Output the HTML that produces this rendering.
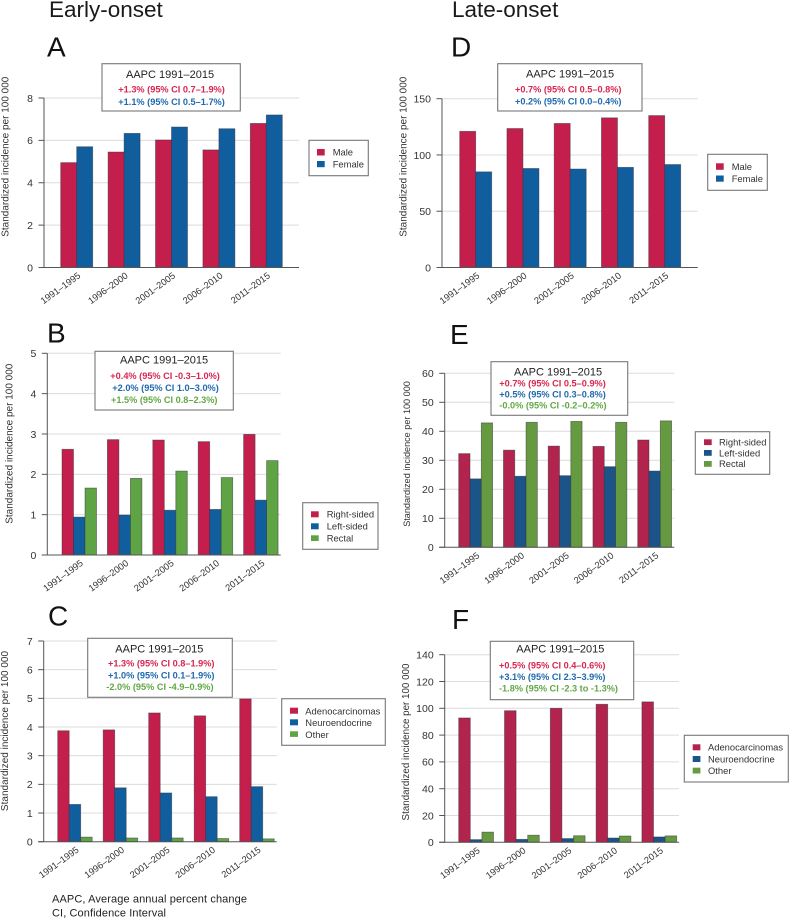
<!DOCTYPE html>
<html lang="en">
<head>
<meta charset="utf-8">
<title>Incidence by onset group</title>
<style>
html,body{margin:0;padding:0;background:#fff;width:789px;height:919px;overflow:hidden}
svg{display:block;font-family:"Liberation Sans",sans-serif;filter:blur(0.3px)}
.hd{font-size:22.5px;fill:#1a1a1a}
.let{font-size:28px;fill:#111}
.ttl{font-size:11px;fill:#222}
.st{font-size:9.2px;font-weight:bold}
.r{fill:#d8264f}.b{fill:#1f69ae}.g{fill:#62a846}
.box{fill:#fff;stroke:#777;stroke-width:1.1}
.lg{font-size:9.4px;fill:#333}
.yt{font-size:10px;fill:#333}
.foot{font-size:11px;fill:#222}
</style>
</head>
<body>
<svg id="figure" width="789" height="919" viewBox="0 0 789 919" xmlns="http://www.w3.org/2000/svg">
<g id="charts"></g>

<text class="hd" x="49" y="17">Early-onset</text>
<text class="hd" x="452" y="17">Late-onset</text>
<text class="let" x="47" y="56.5">A</text>
<text class="let" x="451" y="56.5">D</text>
<text class="let" x="47" y="342.5">B</text>
<text class="let" x="450" y="344">E</text>
<text class="let" x="48" y="625.5">C</text>
<text class="let" x="452" y="629">F</text>

<text class="yt" transform="translate(8.3,156.7) rotate(-90)" text-anchor="middle">Standardized incidence per 100 000</text>
<text class="yt" transform="translate(406.7,156.7) rotate(-90)" text-anchor="middle">Standardized incidence per 100 000</text>
<text class="yt" transform="translate(12.3,443.7) rotate(-90)" text-anchor="middle">Standardized incidence per 100 000</text>
<text class="yt" style="font-size:9.1px" transform="translate(410,454) rotate(-90)" text-anchor="middle">Standardized incidence per 100 000</text>
<text class="yt" transform="translate(8,731) rotate(-90)" text-anchor="middle">Standardized incidence per 100 000</text>
<text class="yt" style="font-size:9.8px" transform="translate(409,742) rotate(-90)" text-anchor="middle">Standardized incidence per 100 000</text>

<g>
<rect class="box" x="102" y="63.7" width="138.3" height="47.3"/>
<text class="ttl" x="126" y="78">AAPC 1991–2015</text>
<text class="st r" x="118.3" y="92.5">+1.3% (95% CI 0.7–1.9%)</text>
<text class="st b" x="118.3" y="105">+1.1% (95% CI 0.5–1.7%)</text>
</g>
<g>
<rect class="box" x="497.7" y="63.7" width="144.3" height="47.3"/>
<text class="ttl" x="526" y="77.7">AAPC 1991–2015</text>
<text class="st r" x="515" y="92.7">+0.7% (95% CI 0.5–0.8%)</text>
<text class="st b" x="515" y="104.7">+0.2% (95% CI 0.0–0.4%)</text>
</g>
<g>
<rect class="box" x="95" y="351.3" width="138.3" height="58.7"/>
<text class="ttl" x="120" y="363.3">AAPC 1991–2015</text>
<text class="st r" x="110.3" y="379">+0.4% (95% CI -0.3–1.0%)</text>
<text class="st b" x="112.3" y="391">+2.0% (95% CI 1.0–3.0%)</text>
<text class="st g" x="111" y="403">+1.5% (95% CI 0.8–2.3%)</text>
</g>
<g>
<rect class="box" x="491" y="361.7" width="136.7" height="53.6"/>
<text class="ttl" x="514" y="375.3">AAPC 1991–2015</text>
<text class="st r" x="499.3" y="386.7">+0.7% (95% CI 0.5–0.9%)</text>
<text class="st b" x="499.3" y="397.7">+0.5% (95% CI 0.3–0.8%)</text>
<text class="st g" x="499.3" y="408.3">-0.0% (95% CI -0.2–0.2%)</text>
</g>
<g>
<rect class="box" x="87.7" y="638.3" width="144.6" height="59"/>
<text class="ttl" x="115.3" y="652.7">AAPC 1991–2015</text>
<text class="st r" x="108" y="666.3">+1.3% (95% CI 0.8–1.9%)</text>
<text class="st b" x="108" y="678.3">+1.0% (95% CI 0.1–1.9%)</text>
<text class="st g" x="106.3" y="690">-2.0% (95% CI -4.9–0.9%)</text>
</g>
<g>
<rect class="box" x="490.3" y="641.3" width="143.4" height="58.4"/>
<text class="ttl" x="516.3" y="652.7">AAPC 1991–2015</text>
<text class="st r" x="499" y="668.3">+0.5% (95% CI 0.4–0.6%)</text>
<text class="st b" x="499" y="680">+3.1% (95% CI 2.3–3.9%)</text>
<text class="st g" x="499" y="691.7">-1.8% (95% CI -2.3 to -1.3%)</text>
</g>

<g>
<rect class="box" x="309" y="140.3" width="59.3" height="35.4"/>
<rect x="317" y="149" width="7.7" height="6.5" fill="#c41f4c"/><text class="lg" x="332.7" y="155.7">Male</text>
<rect x="317" y="161" width="7.7" height="6.2" fill="#115e9e"/><text class="lg" x="332.7" y="167.7">Female</text>
</g>
<g>
<rect class="box" x="707.7" y="154.3" width="59.6" height="36"/>
<rect x="716" y="163.3" width="7.7" height="6.5" fill="#c41f4c"/><text class="lg" x="731.7" y="170">Male</text>
<rect x="716" y="175.5" width="7.7" height="6.2" fill="#115e9e"/><text class="lg" x="731.7" y="182">Female</text>
</g>
<g>
<rect class="box" x="302.7" y="502.7" width="75.3" height="46.6"/>
<rect x="311" y="511.3" width="7.7" height="6" fill="#c41f4c"/><text class="lg" x="326.7" y="517.7">Right-sided</text>
<rect x="311" y="523.3" width="7.7" height="6" fill="#115e9e"/><text class="lg" x="326.7" y="529.7">Left-sided</text>
<rect x="311" y="535.3" width="7.7" height="5.7" fill="#5ea344"/><text class="lg" x="326.7" y="541.7">Rectal</text>
</g>
<g>
<rect class="box" x="695.3" y="431.7" width="74.4" height="42.6"/>
<rect x="704" y="439.3" width="7.7" height="5.8" fill="#b2234e"/><text class="lg" x="719" y="445.7">Right-sided</text>
<rect x="704" y="450" width="7.7" height="5.8" fill="#1a5488"/><text class="lg" x="719" y="456.3">Left-sided</text>
<rect x="704" y="461" width="7.7" height="5.8" fill="#659a41"/><text class="lg" x="719" y="467">Rectal</text>
</g>
<g>
<rect class="box" x="281.7" y="698.7" width="103.6" height="46.6"/>
<rect x="290" y="707.7" width="8" height="6" fill="#c41f4c"/><text class="lg" x="305.3" y="714.3">Adenocarcinomas</text>
<rect x="290" y="719.3" width="8" height="6" fill="#115e9e"/><text class="lg" x="305.3" y="726">Neuroendocrine</text>
<rect x="290" y="731.3" width="8" height="5.6" fill="#5ea344"/><text class="lg" x="305.3" y="738">Other</text>
</g>
<g>
<rect class="box" x="684.3" y="735.3" width="104" height="46.7"/>
<rect x="692.7" y="744.3" width="7.7" height="6" fill="#b2234e"/><text class="lg" x="708" y="750.7">Adenocarcinomas</text>
<rect x="692.7" y="756" width="7.7" height="6" fill="#1a5488"/><text class="lg" x="708" y="762.3">Neuroendocrine</text>
<rect x="692.7" y="767.7" width="7.7" height="5.8" fill="#659a41"/><text class="lg" x="708" y="774">Other</text>
</g>

<text class="foot" x="52" y="902.3" textLength="195">AAPC, Average annual percent change</text>
<text class="foot" x="52" y="916.7" textLength="114">CI, Confidence Interval</text>
</svg>

<script>
const categories = ['1991–1995', '1996–2000', '2001–2005', '2006–2010', '2011–2015'];

const maleA = [4.95, 5.45, 6.02, 5.55, 6.8];
const femaleA = [5.7, 6.33, 6.63, 6.55, 7.2];
const ticksA = [0, 2, 4, 6, 8];

const rightB = [2.62, 2.86, 2.85, 2.81, 2.99];
const leftB = [0.94, 0.99, 1.11, 1.13, 1.36];
const rectalB = [1.66, 1.9, 2.08, 1.92, 2.34];
const ticksB = [0, 1, 2, 3, 4, 5];

const adenoC = [3.87, 3.9, 4.49, 4.39, 4.98];
const neuroC = [1.3, 1.88, 1.7, 1.57, 1.92];
const otherC = [0.16, 0.13, 0.13, 0.11, 0.1];
const ticksC = [0, 1, 2, 3, 4, 5, 6, 7];

const maleD = [121, 123.5, 128, 133, 135];
const femaleD = [85, 88, 87.5, 89, 91.5];
const ticksD = [0, 50, 100, 150];

const rightE = [32.3, 33.5, 34.9, 34.8, 37];
const leftE = [23.6, 24.5, 24.7, 27.8, 26.3];
const rectalE = [42.9, 43.1, 43.4, 43.1, 43.6];
const ticksE = [0, 10, 20, 30, 40, 50, 60];

const adenoF = [92.8, 98.2, 100, 103, 104.8];
const neuroF = [2, 2.2, 2.8, 3.2, 4];
const otherF = [7.6, 5.3, 4.9, 4.7, 4.8];
const ticksF = [0, 20, 40, 60, 80, 100, 120, 140];

const brightColors = ['#c41f4c', '#115e9e', '#5ea344'];
const mutedColors = ['#b2234e', '#1a5488', '#659a41'];

const panels = [
  {id: 'a', series: [maleA, femaleA], ticks: ticksA, colors: brightColors, ax: 44, right: 299, base: 267.5, top: 98, start: 60.7, w: 16, step: 47.4},
  {id: 'b', series: [rightB, leftB, rectalB], ticks: ticksB, colors: brightColors, ax: 47.3, right: 280.7, base: 555, top: 353.3, start: 62, w: 11.5, step: 45.4},
  {id: 'c', series: [adenoC, neuroC, otherC], ticks: ticksC, colors: brightColors, ax: 43.7, right: 276.7, base: 841.7, top: 641, start: 57.7, w: 11.5, step: 45.5},
  {id: 'd', series: [maleD, femaleD], ticks: ticksD, colors: brightColors, ax: 442, right: 697.7, base: 267.5, top: 98.7, start: 459.7, w: 16, step: 47.25},
  {id: 'e', series: [rightE, leftE, rectalE], ticks: ticksE, colors: mutedColors, ax: 444.7, right: 674.3, base: 547.3, top: 373.3, start: 458.7, w: 11.3, step: 44.75},
  {id: 'f', series: [adenoF, neuroF, otherF], ticks: ticksF, colors: mutedColors, ax: 444.7, right: 679, base: 842.3, top: 654.7, start: 458.7, w: 11.6, step: 45.8}
];

const NS = 'http://www.w3.org/2000/svg';
const root = document.getElementById('charts');

function make(parent, tag, attrs, text) {
  const el = document.createElementNS(NS, tag);
  for (const k in attrs) el.setAttribute(k, attrs[k]);
  if (text !== undefined) el.textContent = text;
  parent.appendChild(el);
  return el;
}

function drawPanel(p) {
  const yMax = p.ticks[p.ticks.length - 1];
  const yScale = v => p.base - (v / yMax) * (p.base - p.top);
  const xScale = (c, s) => p.start + c * p.step + s * p.w;

  const g = make(root, 'g', {});
  
  

  p.ticks.forEach(t => {
    const y = yScale(t);
    if (t !== 0) {
      const grid = make(g, 'line', {x1: p.ax, x2: p.right, y1: y, y2: y, stroke: '#dcdcdc', 'stroke-width': 1});
      
      
    }
    const tick = make(g, 'line', {x1: p.ax - 5.5, x2: p.ax, y1: y, y2: y, stroke: '#555', 'stroke-width': 1});
    
    
    const label = make(g, 'text', {x: p.ax - 11, y: y + 3.8, 'text-anchor': 'end', 'font-size': 10.5, fill: '#333'}, String(t));
    
    
  });

  p.series.forEach((values, s) => {
    values.forEach((v, c) => {
      const y = yScale(v);
      const bar = make(g, 'rect', {x: xScale(c, s), y: y, width: p.w, height: p.base - y, fill: p.colors[s], stroke: 'rgba(50,50,60,0.55)', 'stroke-width': 0.8});
      
      
    });
  });

  const yAxis = make(g, 'line', {x1: p.ax, x2: p.ax, y1: p.top, y2: p.base, stroke: '#555', 'stroke-width': 1});
  
  
  const xAxis = make(g, 'line', {x1: p.ax - 5.5, x2: p.right, y1: p.base, y2: p.base, stroke: '#555', 'stroke-width': 1});
  
  

  categories.forEach((name, c) => {
    const mid = xScale(c, p.series.length / 2);
    const ex = mid + 4.5;
    const ey = p.base + 9.5;
    const label = make(g, 'text', {transform: 'translate(' + ex + ',' + ey + ') rotate(-36)', 'text-anchor': 'end', 'font-size': 9.3, fill: '#333'}, name);
    
    
  });
}

panels.forEach(drawPanel);
</script>
</body>
</html>
